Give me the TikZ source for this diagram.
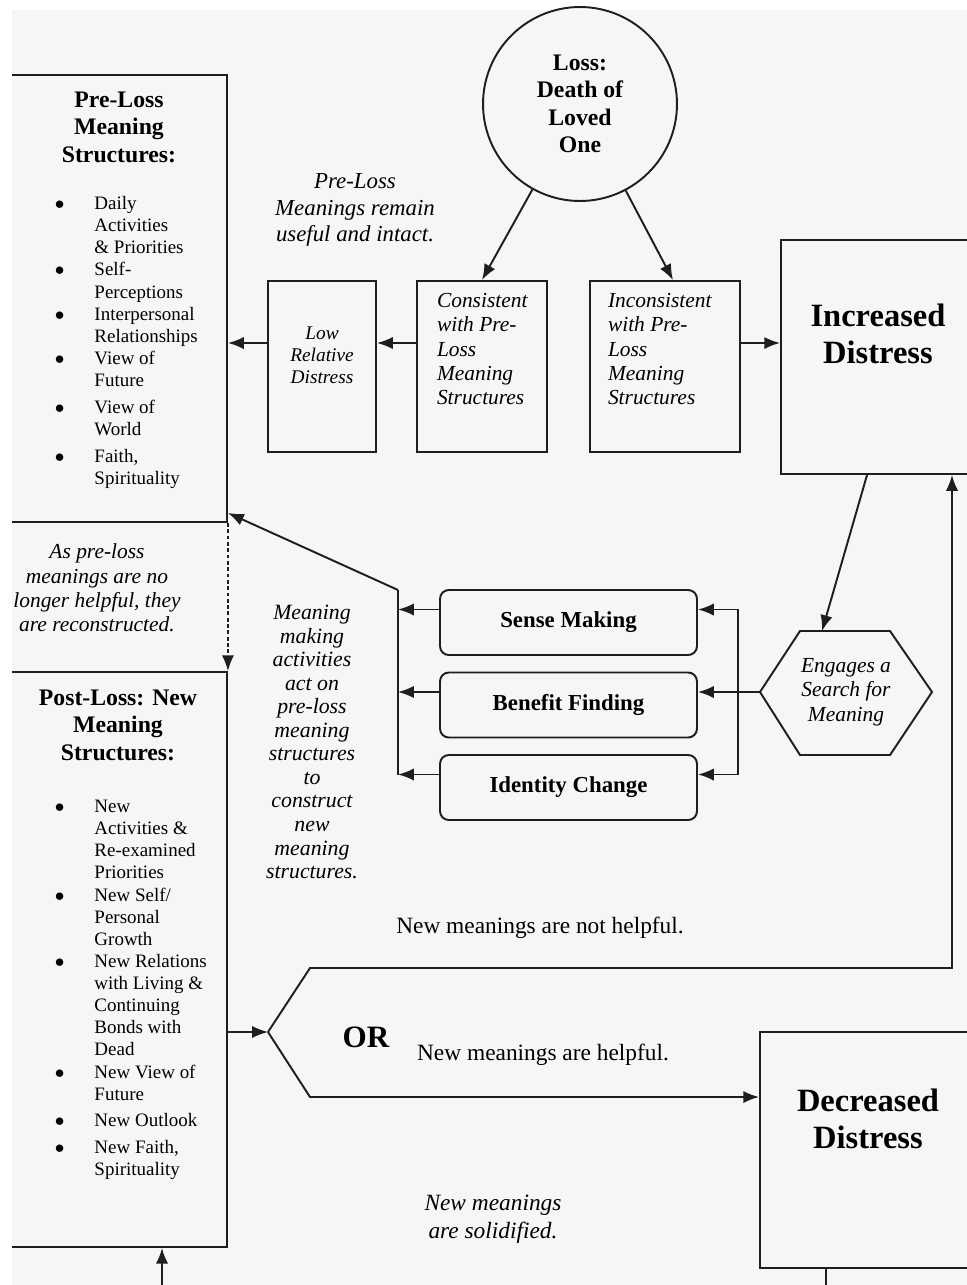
\documentclass[tikz,border=0pt]{standalone}
\usepackage{fontspec}
\setmainfont{Liberation Serif}
\usetikzlibrary{arrows.meta,positioning}
\definecolor{fondo}{HTML}{F6F6F6}
\definecolor{trazo}{HTML}{1E1E1E}

\begin{document}
\begin{tikzpicture}[x=0.02cm, y=-0.02cm, line width=1.1pt,
    >={Latex[length=9pt,width=7pt]},
    caja/.style={draw=trazo, line width=1.1pt, inner sep=0pt},
    cajaR/.style={caja, rounded corners=5pt, minimum width=5.14cm, minimum height=1.3cm,
        font=\fontsize{13}{15}\selectfont\bfseries},
    cursiva/.style={align=center, inner sep=0pt, font=\fontsize{12.2}{13.9}\selectfont\itshape},
    titulo/.style={align=center, inner sep=0pt, font=\fontsize{13.5}{15.6}\selectfont\bfseries},
    grande/.style={align=center, inner sep=0pt, font=\fontsize{18.5}{21}\selectfont\bfseries},
    recto/.style={inner sep=0pt, font=\fontsize{13.3}{15}\selectfont},
    lista/.style={anchor=north west, inner sep=0pt, font=\fontsize{10.8}{12.6}\selectfont},
    flecha/.style={->, draw=trazo}]

    \useasboundingbox (0,0) rectangle (967,1285);
    \fill[white] (0,0) rectangle (967,1285);
    \fill[fondo] (12,10) rectangle (967,1285);

    \begin{scope}
    \clip (12,0) rectangle (967,1285);

    % ~~~~ Estructuras previas ~~~~%
    \node[caja, minimum width=4.94cm, minimum height=8.94cm] (preloss) at (103.5,298.5) {};
    \node[titulo] (pretitulo) at (119,127) {Pre-Loss\\Meaning\\Structures:};
    \node[lista] (prelista) at (54,193) {\begin{tabular}{@{}p{22.5pt}@{}l@{}}
        $\bullet$ & Daily\\ & Activities\\ & \& Priorities\\
        $\bullet$ & Self-\\ & Perceptions\\
        $\bullet$ & Interpersonal\\ & Relationships\\
        $\bullet$ & View of\\ & Future\\[2.5pt]
        $\bullet$ & View of\\ & World\\[3pt]
        $\bullet$ & Faith,\\ & Spirituality
        \end{tabular}};
    \node[cursiva] (reconstruir) at (97,588) {As pre-loss\\meanings are no\\longer helpful, they\\are reconstructed.};

    % ~~~~ Estructuras nuevas ~~~~%
    \node[caja, minimum width=4.94cm, minimum height=11.5cm] (postloss) at (103.5,959.5) {};
    \node[titulo] (posttitulo) at (118,725) {Post-Loss: New\\Meaning\\Structures:};
    \node[lista] (postlista) at (54,796) {\begin{tabular}{@{}p{22.5pt}@{}l@{}}
        $\bullet$ & New\\ & Activities \&\\ & Re-examined\\ & Priorities\\
        $\bullet$ & New Self/\\ & Personal\\ & Growth\\
        $\bullet$ & New Relations\\ & with Living \&\\ & Continuing\\ & Bonds with\\ & Dead\\
        $\bullet$ & New View of\\ & Future\\[2.5pt]
        $\bullet$ & New Outlook\\[2.5pt]
        $\bullet$ & New Faith,\\ & Spirituality
        \end{tabular}};
    \draw[flecha, dash pattern=on 2.2pt off 1.4pt] (preloss.south east) -- (postloss.north east);

    % ~~~~ Perdida y primeras cajas ~~~~%
    \node[caja, circle, titulo, minimum size=3.88cm] (perdida) at (580,104) {Loss:\\Death of\\Loved\\One};
    \node[cursiva, font=\fontsize{13}{15.3}\selectfont\itshape] (intactas) at (355,210)
        {Pre-Loss\\Meanings remain\\useful and intact.};

    \node[caja, minimum width=2.16cm, minimum height=3.42cm] (baja) at (322,366.5) {};
    \node[caja, minimum width=2.6cm, minimum height=3.42cm] (consistente) at (482,366.5) {};
    \node[caja, minimum width=3cm, minimum height=3.42cm] (inconsistente) at (665,366.5) {};
    \node[cursiva, font=\fontsize{11}{12.5}\selectfont\itshape] (bajatxt) at (322,355)
        {Low\\Relative\\Distress};
    \node[cursiva, align=left, anchor=north west] (consistxt)
        at ([xshift=0.4cm, yshift=-0.24cm]consistente.north west)
        {Consistent\\with Pre-\\Loss\\Meaning\\Structures};
    \node[cursiva, align=left, anchor=north west] (inconsistxt)
        at ([xshift=0.36cm, yshift=-0.24cm]inconsistente.north west)
        {Inconsistent\\with Pre-\\Loss\\Meaning\\Structures};

    \node[caja, minimum width=6.38cm, minimum height=4.68cm] (aumento) at (940.5,357) {};
    \node[grande] (aumentotxt) at (878,334) {Increased\\Distress};

    \draw[flecha] (perdida) -- (consistente.north);
    \draw[flecha] (perdida) -- ([xshift=0.16cm]inconsistente.north);
    \draw[flecha] ([yshift=0.47cm]consistente.west) -- ([yshift=0.47cm]baja.east);
    \draw[flecha] ([yshift=0.47cm]baja.west) -- ([yshift=0.47cm]baja.west -| preloss.east);
    \draw[flecha] ([yshift=0.47cm]inconsistente.east) -- ([yshift=0.47cm]inconsistente.east -| aumento.west);

    % ~~~~ Busqueda de sentido ~~~~%
    \coordinate (hexO) at (760,692);
    \coordinate (hexN) at (822,631);
    \node[cursiva] (busqueda) at (846,692) {Engages a\\Search for\\Meaning};
    \draw[trazo] (hexO) -- (800,631) -- (890,631) -- (932,692) -- (890,755) -- (800,755) -- cycle;
    \draw[flecha] ([xshift=1.74cm]aumento.south west) -- (hexN);

    \node[cajaR] (sentido) at (568.5,622.5) {Sense Making};
    \node[cajaR] (beneficio) at (568.5,705) {Benefit Finding};
    \node[cajaR] (identidad) at (568.5,787.5) {Identity Change};

    \coordinate (busD) at (738,692);
    \draw[flecha] (hexO) -- (beneficio.east |- hexO);
    \draw[flecha] (busD) |- ([yshift=0.26cm]sentido.east);
    \draw[flecha] (busD) |- ([yshift=0.26cm]identidad.east);

    \coordinate (busI) at (398,590);
    \draw[flecha] ([yshift=0.26cm]sentido.west) -- ([yshift=0.26cm]sentido.west -| busI);
    \draw[flecha] ([yshift=0.26cm]beneficio.west) -- ([yshift=0.26cm]beneficio.west -| busI);
    \draw[flecha] ([yshift=0.26cm]identidad.west) -- ([yshift=0.26cm]identidad.west -| busI);
    \draw[trazo] (busI) -- ([yshift=0.26cm]identidad.west -| busI);
    \draw[flecha] (busI) -- ([yshift=0.2cm]preloss.south east);

    \node[cursiva, font=\fontsize{12.4}{13.4}\selectfont\itshape] (actividades) at (312,742)
        {Meaning\\making\\activities\\act on\\pre-loss\\meaning\\structures\\to\\construct\\new\\meaning\\structures.};

    % ~~~~ Resultado ~~~~%
    \node[caja, minimum width=6.8cm, minimum height=4.72cm] (disminucion) at (930,1150) {};
    \node[grande] (disminuciontxt) at (868,1119) {Decreased\\Distress};

    \coordinate (orPunta) at (268,1032);
    \coordinate (orArriba) at (310,968);
    \coordinate (orAbajo) at (310,1097);
    \coordinate (giro) at (952,968);
    \draw[flecha] (postloss.east |- orPunta) -- (orPunta);
    \draw[flecha] (orPunta) -- (orArriba) -- (giro) -- (giro |- aumento.south);
    \draw[flecha] (orPunta) -- (orAbajo) -- (orAbajo -| disminucion.west);

    \node[recto, font=\fontsize{17.7}{20}\selectfont\bfseries] (o) at (366,1037) {OR};
    \node[recto] (noutil) at (540,928) {New meanings are not helpful.};
    \node[recto] (util) at (543,1055) {New meanings are helpful.};
    \node[cursiva, font=\fontsize{13.3}{16}\selectfont\itshape] (solidas) at (493,1219)
        {New meanings\\are solidified.};

    \coordinate (entradaPost) at (162,1290);
    \draw[flecha] (entradaPost) -- (entradaPost |- postloss.south);
    \coordinate (salidaDis) at (826,1290);
    \draw[trazo] (salidaDis |- disminucion.south) -- (salidaDis);
    \end{scope}
\end{tikzpicture}
\end{document}
